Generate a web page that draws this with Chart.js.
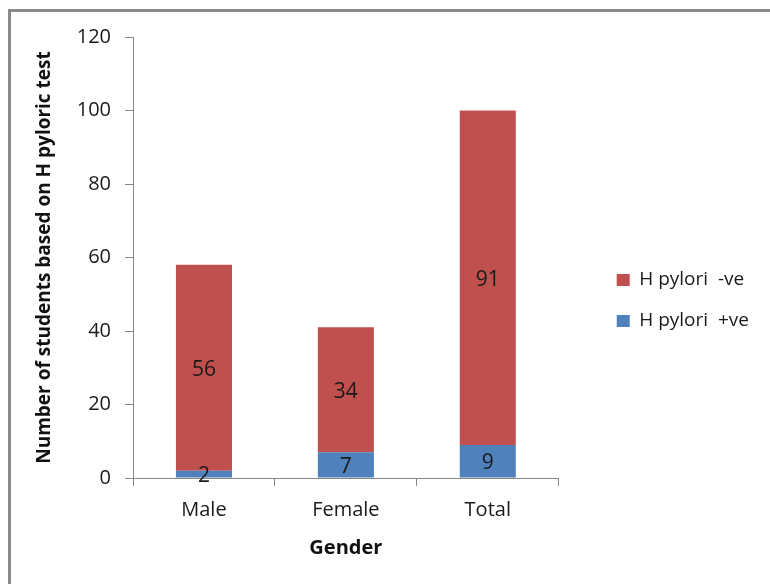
<!DOCTYPE html>
<html>
<head>
<meta charset="utf-8">
<style>
  html, body { margin: 0; padding: 0; width: 770px; height: 584px; overflow: hidden; background: #fff; }
  #frame { position: absolute; left: 8px; top: 9px; width: 800px; height: 620px; border: 3px solid #8a8a8a; box-sizing: border-box; }
  #wrap { position: absolute; left: 0; top: 0; width: 770px; height: 584px; }
</style>
<script src="https://cdn.jsdelivr.net/npm/chart.js@4"></script>
</head>
<body>
<div id="frame"></div>
<div id="wrap"><canvas id="c" width="770" height="584"></canvas></div>
<script>
// Students grouped by gender and H. pylori test result
const categories = ['Male', 'Female', 'Total'];
const positiveCounts = [2, 7, 9];
const negativeCounts = [56, 34, 91];
const yTicks = [0, 20, 40, 60, 80, 100, 120];

const FONT = '"Open Sans", Lato, sans-serif';
const AXIS_GREY = '#868686';

// Writes each segment's value in the middle of its bar piece
const segmentLabels = {
  id: 'segmentLabels',
  afterDatasetsDraw(chart) {
    const ctx = chart.ctx;
    ctx.save();
    ctx.font = '21px ' + FONT;
    ctx.fillStyle = '#1a1a1a';
    ctx.textAlign = 'center';
    ctx.textBaseline = 'middle';
    chart.data.datasets.forEach((ds, i) => {
      const meta = chart.getDatasetMeta(i);
      meta.data.forEach((bar, j) => {
        const p = bar.getCenterPoint();
        ctx.fillText(String(ds.data[j]), p.x, p.y + 2);
      });
    });
    ctx.restore();
  }
};

new Chart(document.getElementById('c'), {
  type: 'bar',
  data: {
    labels: categories,
    datasets: [
      { label: 'H pylori  +ve', data: positiveCounts, backgroundColor: '#4F81BD', borderWidth: 0 },
      { label: 'H pylori  -ve', data: negativeCounts, backgroundColor: '#C0504D', borderWidth: 0 }
    ]
  },
  options: {
    responsive: false,
    animation: false,
    events: [],
    layout: { padding: { left: 0, top: 37, right: 11, bottom: 20 } },
    datasets: { bar: { categoryPercentage: 1, barPercentage: 0.395 } },
    plugins: {
      tooltip: { enabled: false },
      legend: {
        position: 'right',
        reverse: true,
        maxWidth: 260,
        labels: {
          font: { family: FONT, size: 19 },
          color: '#1a1a1a',
          boxWidth: 13,
          boxHeight: 12,
          padding: 22,
          textAlign: 'left'
        }
      }
    },
    scales: {
      x: {
        stacked: true,
        grid: { display: true, drawOnChartArea: false, tickLength: 8, color: AXIS_GREY, offset: true },
        border: { display: true, color: AXIS_GREY, width: 1 },
        ticks: { font: { family: FONT, size: 20 }, color: '#1a1a1a', padding: 12 },
        title: { display: true, text: 'Gender', font: { family: FONT, size: 20, weight: 'bold' }, color: '#111', padding: { top: 8, bottom: 4 } },
        afterFit(scale) { scale.height = 86; }
      },
      y: {
        stacked: true,
        min: 0,
        max: 120,
        afterBuildTicks(scale) { scale.ticks = yTicks.map(v => ({ value: v })); },
        grid: { display: true, drawOnChartArea: false, tickLength: 8, color: AXIS_GREY },
        border: { display: true, color: AXIS_GREY, width: 1 },
        ticks: { font: { family: FONT, size: 20 }, color: '#1a1a1a', padding: 14 },
        title: { display: true, text: 'Number of students based on H pyloric test', font: { family: FONT, size: 19, weight: 'bold' }, color: '#111', padding: { top: 33, bottom: 0 } },
        afterFit(scale) { scale.width = 133; }
      },
      // empty spacer between the plot and the legend
      gap: {
        type: 'linear',
        position: 'right',
        display: true,
        grid: { display: false },
        border: { display: false },
        ticks: { display: false },
        afterFit(scale) { scale.width = 36; }
      }
    }
  },
  plugins: [segmentLabels]
});
</script>
</body>
</html>
